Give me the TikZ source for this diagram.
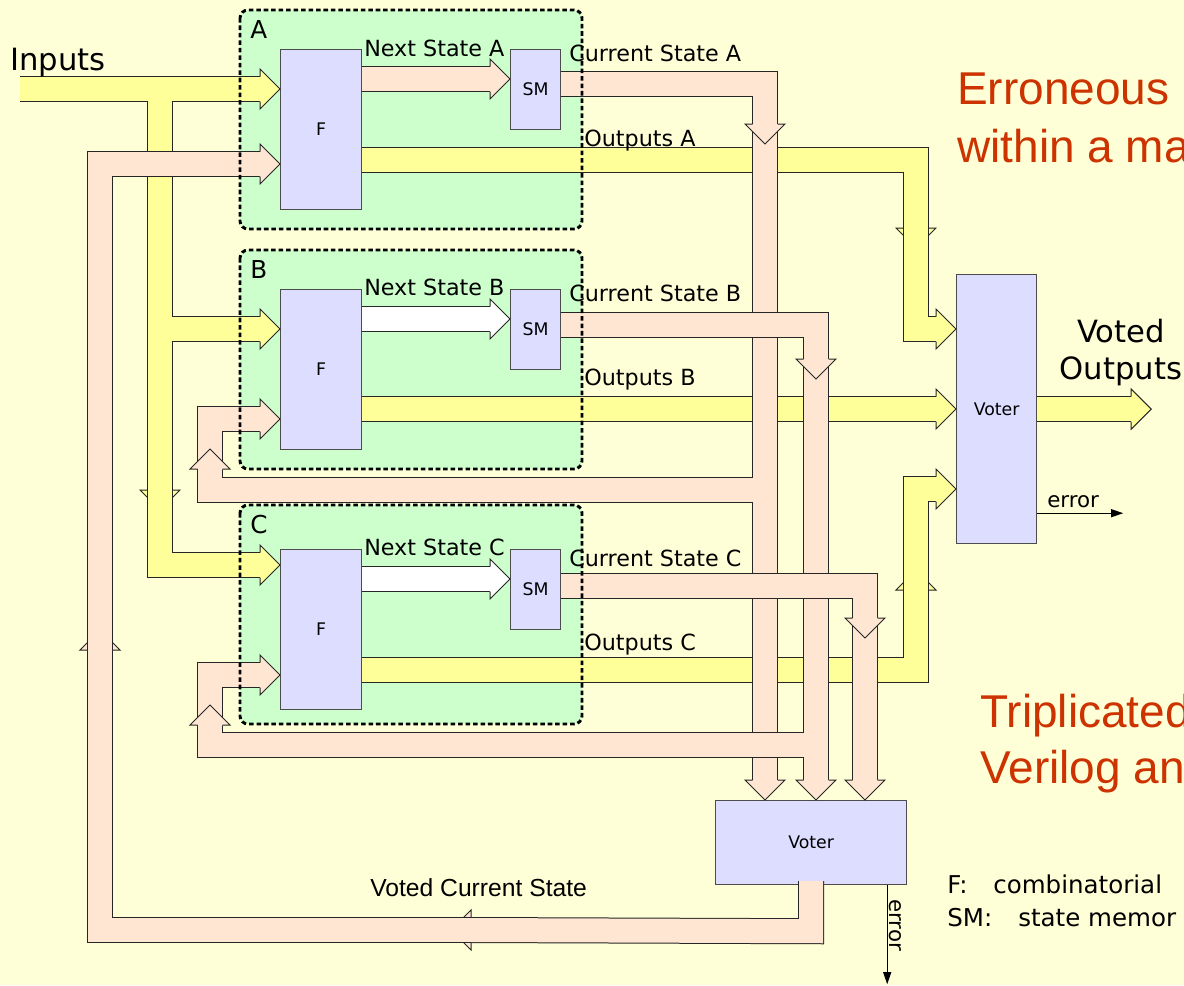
\documentclass[tikz,border=0pt]{standalone}
\usepackage{fontspec}
\setmainfont{DejaVu Sans}
\newfontfamily\arialfont{Liberation Sans}
\usetikzlibrary{arrows.meta,calc}

\definecolor{bgcol}{RGB}{255,255,215}
\definecolor{grpcol}{RGB}{204,255,204}
\definecolor{blkcol}{RGB}{221,221,255}
\definecolor{yel}{RGB}{255,255,153}
\definecolor{peach}{RGB}{255,230,210}
\definecolor{redtxt}{RGB}{204,51,0}

% block arrow head, tip at the origin, pointing along +x
\tikzset{
  pics/bhead/.style={code={
      \fill[#1] (-21,-12) -- (-20,-12) -- (-20,-20) -- (0,0) -- (-20,20) -- (-20,12) -- (-21,12) -- cycle;
      \draw[bandedge] (-20,-12.5) -- (-20,-20) -- (0,0) -- (-20,20) -- (-20,12.5);
  }}
}

% a set of joined bands: all outlines first, then all bodies
\newcommand{\bandnet}[2]{%
  \foreach \p in {#2} {\draw[bandout] \p;}
  \foreach \p in {#2} {\draw[bandbody=#1] \p;}
}

\begin{document}
\begin{tikzpicture}[
    x=0.75pt, y=-0.75pt,
    blk/.style={
      draw=black!70,
      line width=0.9pt,
      fill=blkcol,
      inner sep=0,
      anchor=north west,
      font=\fontsize{13}{15}\selectfont
    },
    fblk/.style={blk, minimum width=60.75pt, minimum height=120pt},
    smblk/.style={blk, minimum width=37.5pt, minimum height=60pt},
    grp/.style={draw=black, line width=2.2pt, dash pattern=on 3.4pt off 2.2pt, rounded corners=6pt},
    bandedge/.style={draw=black!85, line width=0.75pt, line join=miter},
    bandout/.style={draw=black!85, line width=19.5pt, line join=miter},
    bandbody/.style={draw=#1, line width=18pt, line join=miter},
    lbl/.style={inner sep=0, anchor=base west, font=\fontsize{16.7}{20}\selectfont},
    biglbl/.style={inner sep=0, anchor=base, font=\fontsize{23}{28}\selectfont},
    grplbl/.style={inner sep=0, anchor=base west, font=\fontsize{18.5}{22}\selectfont},
    errlbl/.style={inner sep=0, anchor=base west, font=\fontsize{16}{19}\selectfont},
    leglbl/.style={inner sep=0, anchor=base west, font=\fontsize{18.4}{22}\selectfont},
    redlbl/.style={inner sep=0, anchor=base west, text=redtxt, font=\arialfont\fontsize{34.5}{40}\selectfont},
    errline/.style={line width=0.8pt, -{Triangle[length=9pt,width=6pt]}}
  ]

  % Background
  \fill[bgcol] (0,0) rectangle (1184,985);
  \useasboundingbox (0,0) rectangle (1184,985);
  \clip (0,0) rectangle (1184,985);

  % Groups
  \foreach \t in {10,250,505}
    \fill[grpcol, rounded corners=6pt] (240,\t) rectangle (582,\t+219);

  % Blocks
  \node[fblk] (fA) at (280,49) {F};
  \node[fblk] (fB) at (280,289) {F};
  \node[fblk] (fC) at (280,549) {F};
  \node[smblk] (smA) at (510,49) {SM};
  \node[smblk] (smB) at (510,289) {SM};
  \node[smblk] (smC) at (510,549) {SM};
  \node[blk, minimum width=60pt, minimum height=201.75pt] (vO) at (956,274) {Voter};
  \node[blk, minimum width=143.25pt, minimum height=63pt] (vS) at (715,800) {Voter};

  % Band ends on the blocks
  \coordinate (inA) at ($(fA.north west)+(0,40)$);
  \coordinate (inB) at ($(fB.north west)+(0,40)$);
  \coordinate (inC) at ($(fC.north west)+(0,16)$);
  \coordinate (fbA) at ($(fA.north west)+(0,115)$);
  \coordinate (fbB) at ($(fB.north west)+(0,130)$);
  \coordinate (fbC) at ($(fC.north west)+(0,126)$);
  \coordinate (nsA0) at ($(fA.north east)+(0,30)$);
  \coordinate (nsB0) at ($(fB.north east)+(0,30)$);
  \coordinate (nsC0) at ($(fC.north east)+(0,30)$);
  \coordinate (nsA) at ($(smA.north west)+(0,30)$);
  \coordinate (nsB) at ($(smB.north west)+(0,30)$);
  \coordinate (nsC) at ($(smC.north west)+(0,30)$);
  \coordinate (csA) at ($(smA.north east)+(0,35)$);
  \coordinate (csB) at ($(smB.north east)+(0,36)$);
  \coordinate (csC) at ($(smC.north east)+(0,37)$);
  \coordinate (oA) at ($(fA.north east)+(0,111)$);
  \coordinate (oB) at ($(fB.north east)+(0,120)$);
  \coordinate (oC) at ($(fC.north east)+(0,121)$);
  \coordinate (voA) at ($(vO.north west)+(0,55)$);
  \coordinate (voB) at ($(vO.north west)+(0,135)$);
  \coordinate (voC) at ($(vO.north west)+(0,215)$);
  \coordinate (vout) at ($(vO.east)+(114,0)$);
  \coordinate (vsA) at ($(vS.north west)+(50,0)$);
  \coordinate (vsB) at ($(vS.north west)+(101,0)$);
  \coordinate (vsC) at ($(vS.north west)+(150,0)$);
  \coordinate (vcs) at ($(vS.south)+(0,-4)$);

  % Inputs
  \pic[rotate=-90] at (160,510) {bhead=yel};
  \bandnet{yel}{{(20,89) -- ([xshift=-15pt]inA)},
    {(160,89) -- (160,490)},
    {(160,480) -- (160,565) -- ([xshift=-15pt]inC)},
    {(160,329) -- ([xshift=-15pt]inB)}}
  \pic at (inA) {bhead=yel};
  \pic at (inB) {bhead=yel};
  \pic at (inC) {bhead=yel};

  % Outputs
  \pic[rotate=-90] at (916,248) {bhead=yel};
  \bandnet{yel}{{(oA) -- (916,160) -- (916,228)},
    {(916,220) -- (916,329) -- ([xshift=-15pt]voA)}}
  \pic at (voA) {bhead=yel};
  \bandnet{yel}{{(oB) -- ([xshift=-15pt]voB)}}
  \pic at (voB) {bhead=yel};
  \pic[rotate=90] at (916,570) {bhead=yel};
  \bandnet{yel}{{(oC) -- (916,670) -- (916,590)},
    {(916,600) -- (916,489) -- ([xshift=-15pt]voC)}}
  \pic at (voC) {bhead=yel};
  \bandnet{yel}{{(vO.east) -- ([xshift=-15pt]vout)}}
  \pic at (vout) {bhead=yel};

  % Next state
  \bandnet{peach}{{(nsA0) -- ([xshift=-15pt]nsA)}}
  \pic at (nsA) {bhead=peach};
  \bandnet{white}{{(nsB0) -- ([xshift=-15pt]nsB)}}
  \pic at (nsB) {bhead=white};
  \bandnet{white}{{(nsC0) -- ([xshift=-15pt]nsC)}}
  \pic at (nsC) {bhead=white};

  % Current state A, fed back to B
  \bandnet{peach}{{(csA) -- (765,84) -- (765,124)},
    {(765,116) -- ([yshift=15pt]vsA)},
    {(765,490) -- (210,490) -- (210,469)},
    {(210,478) -- (210,419) -- ([xshift=-15pt]fbB)}}
  \pic[rotate=-90] at (765,144) {bhead=peach};
  \pic[rotate=90] at (210,449) {bhead=peach};
  \pic[rotate=-90] at (vsA) {bhead=peach};
  \pic at (fbB) {bhead=peach};

  % Current state B, fed back to C
  \bandnet{peach}{{(csB) -- (816,325) -- (816,359)},
    {(816,350) -- ([yshift=15pt]vsB)},
    {(816,745) -- (210,745) -- (210,725)},
    {(210,735) -- (210,675) -- ([xshift=-15pt]fbC)}}
  \pic[rotate=-90] at (816,379) {bhead=peach};
  \pic[rotate=90] at (210,705) {bhead=peach};
  \pic[rotate=-90] at (vsB) {bhead=peach};
  \pic at (fbC) {bhead=peach};

  % Current state C
  \bandnet{peach}{{(csC) -- (865,586) -- (865,618)},
    {(865,610) -- ([yshift=15pt]vsC)}}
  \pic[rotate=-90] at (865,638) {bhead=peach};
  \pic[rotate=-90] at (vsC) {bhead=peach};

  % Voted current state, back to A
  \pic[rotate=180] at (451,930) {bhead=peach};
  \pic[rotate=90] at (100,630) {bhead=peach};
  \bandnet{peach}{{(vcs) -- ($(vcs)+(0,50)$) -- (471,930)},
    {(480,930) -- (100,930) -- (100,650)},
    {(100,660) -- (100,164) -- ([xshift=-15pt]fbA)}}
  \pic at (fbA) {bhead=peach};

  % Error lines
  \coordinate (errO) at ($(vO.south east)+(0,-31)$);
  \coordinate (errOend) at ($(errO)+(86,0)$);
  \coordinate (errS) at ($(vS.south east)+(-20,0)$);
  \coordinate (errSend) at ($(errS)+(0,99)$);
  \draw[errline] (errO) -- (errOend);
  \draw[errline] (errS) -- (errSend);

  % Group borders
  \foreach \t in {10,250,505}
    \draw[grp] (240,\t) rectangle (582,\t+219);

  % Labels
  \node[grplbl] (lA) at (250,38) {A};
  \node[grplbl] (lB) at (250,278) {B};
  \node[grplbl] (lC) at (250,533) {C};
  \node[biglbl, anchor=base west] (lIn) at (10,70) {Inputs};
  \node[lbl] (lnsA) at (364,56) {Next State A};
  \node[lbl] (lnsB) at (364,295) {Next State B};
  \node[lbl] (lnsC) at (364,555) {Next State C};
  \node[lbl] (lcsA) at (569,61) {Current State A};
  \node[lbl] (lcsB) at (569,301) {Current State B};
  \node[lbl] (lcsC) at (569,566) {Current State C};
  \node[lbl] (loA) at (584,146) {Outputs A};
  \node[lbl] (loB) at (584,385) {Outputs B};
  \node[lbl] (loC) at (584,650) {Outputs C};
  \node[biglbl] (lvo1) at (1121,342) {Voted};
  \node[biglbl] (lvo2) at (1121,379) {Outputs};
  \node[errlbl] (lerr1) at (1047,507) {error};
  \node[errlbl, rotate=-90] (lerr2) at (889,899) {error};
  \node[inner sep=0, anchor=base west, font=\arialfont\fontsize{18.5}{22}\selectfont] (lvcs) at (370,896) {Voted Current State};

  \node[redlbl] (lerr) at (957,104) {Erroneous};
  \node[redlbl] (lwithin) at (957,162) {within a ma};
  \node[redlbl] (ltrip) at (980,727) {Triplicated};
  \node[redlbl] (lveri) at (980,783) {Verilog an};

  \node[leglbl] (legF) at (947,893) {F:};
  \node[leglbl] (legFt) at (993,893) {combinatorial};
  \node[leglbl] (legSM) at (947,926) {SM:};
  \node[leglbl] (legSMt) at (1018,926) {state memor};

\end{tikzpicture}
\end{document}
